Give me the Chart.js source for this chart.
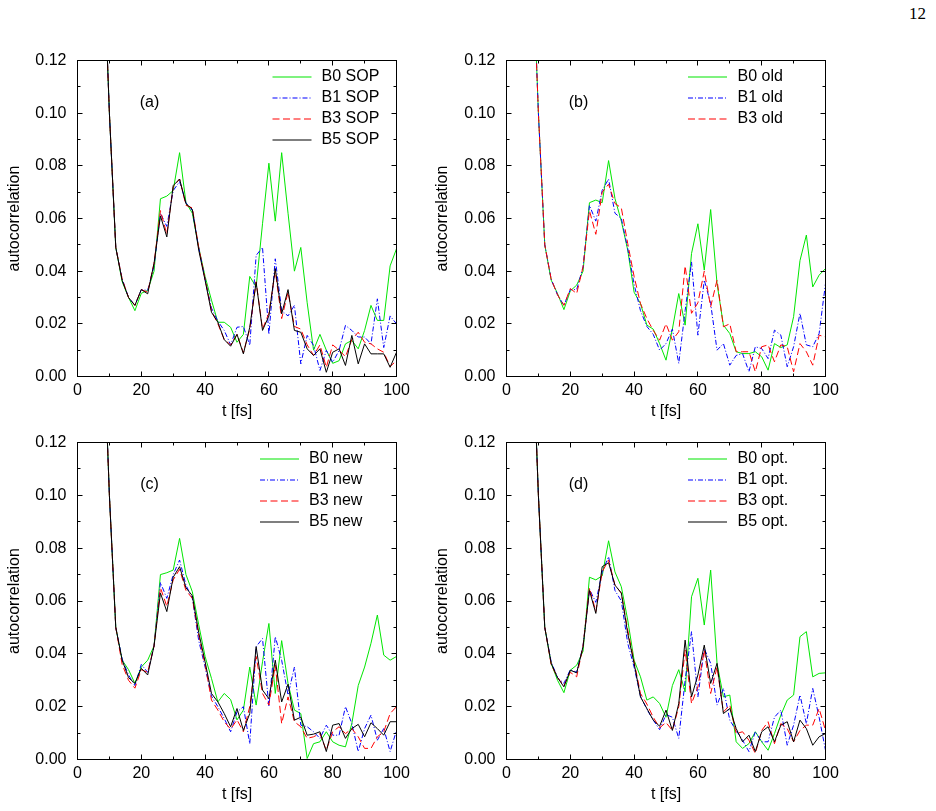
<!DOCTYPE html>
<html>
<head>
<meta charset="utf-8">
<title>autocorrelation</title>
<script src="https://cdn.jsdelivr.net/npm/chart.js@4.4.1/dist/chart.umd.min.js"></script>
<style>
  body { margin: 0; background: #fff; width: 936px; height: 811px; overflow: hidden; position: relative; }
  canvas { position: absolute; }
  #pageno { position: absolute; left: 909px; top: 4px; font: 17px "Liberation Serif", "DejaVu Serif", serif; color: #000; }
</style>
</head>
<body>
<div id="pageno">12</div>
<canvas id="panelA" width="420" height="380" style="left:0px;top:50px"></canvas>
<canvas id="panelB" width="420" height="380" style="left:428px;top:50px"></canvas>
<canvas id="panelC" width="420" height="379" style="left:0px;top:432px"></canvas>
<canvas id="panelD" width="420" height="379" style="left:428px;top:432px"></canvas>
<script type="text/javascript">
// time axis, every 2 fs
const timeFs = [0, 2, 4, 6, 8, 10, 12, 14, 16, 18,
    20, 22, 24, 26, 28, 30, 32, 34, 36, 38,
    40, 42, 44, 46, 48, 50, 52, 54, 56, 58,
    60, 62, 64, 66, 68, 70, 72, 74, 76, 78,
    80, 82, 84, 86, 88, 90, 92, 94, 96, 98,
    100];

// (a) SOP
const sopB0 = [1.000, 0.880, 0.620, 0.360, 0.165, 0.100, 0.049, 0.036, 0.030, 0.025,
    0.0316, 0.0327, 0.040, 0.0675, 0.0685, 0.0706, 0.085, 0.066, 0.062, 0.049,
    0.038, 0.029, 0.0206, 0.0206, 0.0187, 0.013, 0.016, 0.038, 0.034, 0.058,
    0.081, 0.059, 0.085, 0.062, 0.040, 0.049, 0.028, 0.010, 0.016, 0.010,
    0.005, 0.006, 0.0124, 0.0137, 0.0105, 0.0175, 0.027, 0.0213, 0.0213, 0.042,
    0.0485];
const sopB1 = [1.000, 0.880, 0.620, 0.360, 0.165, 0.100, 0.049, 0.037, 0.030, 0.027,
    0.033, 0.0327, 0.042, 0.062, 0.057, 0.0706, 0.074, 0.066, 0.063, 0.049,
    0.037, 0.026, 0.021, 0.0175, 0.012, 0.0187, 0.019, 0.0118, 0.046, 0.049,
    0.016, 0.0447, 0.025, 0.023, 0.027, 0.0048, 0.0156, 0.0118, 0.0023, 0.0099,
    0.0054, 0.0099, 0.0194, 0.0175, 0.015, 0.015, 0.0124, 0.0295, 0.011, 0.023,
    0.020];
const sopB3 = [1.000, 0.880, 0.620, 0.360, 0.165, 0.100, 0.049, 0.037, 0.030, 0.027,
    0.033, 0.032, 0.043, 0.063, 0.054, 0.072, 0.075, 0.065, 0.064, 0.049,
    0.037, 0.025, 0.020, 0.014, 0.012, 0.016, 0.009, 0.018, 0.036, 0.018,
    0.024, 0.040, 0.022, 0.032, 0.019, 0.018, 0.012, 0.008, 0.012, 0.0035,
    0.012, 0.010, 0.0075, 0.014, 0.0168, 0.013, 0.0124, 0.0105, 0.0092, 0.0038,
    0.006];
const sopB5 = [1.000, 0.880, 0.620, 0.360, 0.165, 0.100, 0.049, 0.0365, 0.030, 0.027,
    0.033, 0.0314, 0.043, 0.061, 0.053, 0.0725, 0.075, 0.0656, 0.0635, 0.048,
    0.0365, 0.0244, 0.0206, 0.014, 0.0115, 0.016, 0.0086, 0.0187, 0.0358, 0.0175,
    0.023, 0.041, 0.0238, 0.033, 0.0175, 0.0168, 0.0105, 0.008, 0.0105, 0.0016,
    0.0092, 0.0105, 0.0042, 0.0156, 0.0048, 0.0124, 0.0086, 0.0086, 0.0086, 0.0035,
    0.0092];

// (b) old
const oldB0 = [1.000, 0.880, 0.620, 0.360, 0.165, 0.100, 0.050, 0.0366, 0.0315, 0.0254,
    0.0325, 0.0347, 0.040, 0.066, 0.067, 0.066, 0.082, 0.0676, 0.059, 0.048,
    0.032, 0.0277, 0.0195, 0.018, 0.0125, 0.0062, 0.018, 0.0315, 0.0195, 0.0467,
    0.058, 0.0404, 0.0634, 0.0353, 0.0195, 0.0163, 0.0094, 0.0087, 0.0087, 0.0094,
    0.0075, 0.0024, 0.0125, 0.011, 0.012, 0.0227, 0.044, 0.0537, 0.034, 0.0385,
    0.041];
const oldB1 = [1.000, 0.880, 0.620, 0.360, 0.165, 0.100, 0.050, 0.037, 0.031, 0.027,
    0.033, 0.033, 0.0416, 0.065, 0.059, 0.0707, 0.075, 0.062, 0.060, 0.0486,
    0.035, 0.025, 0.019, 0.016, 0.010, 0.0125, 0.018, 0.005, 0.025, 0.0435,
    0.0157, 0.0366, 0.0277, 0.010, 0.0125, 0.0043, 0.008, 0.0087, 0.0018, 0.0113,
    0.0106, 0.0068, 0.0176, 0.0157, 0.0037, 0.0113, 0.024, 0.012, 0.0113, 0.0163,
    0.0353];
const oldB3 = [1.000, 0.880, 0.620, 0.360, 0.165, 0.100, 0.050, 0.037, 0.031, 0.027,
    0.0334, 0.0315, 0.0416, 0.063, 0.054, 0.070, 0.073, 0.0657, 0.064, 0.0505,
    0.038, 0.0277, 0.022, 0.0175, 0.0138, 0.020, 0.0138, 0.017, 0.042, 0.024,
    0.028, 0.040, 0.0265, 0.0366, 0.0189, 0.020, 0.0094, 0.0094, 0.0094, 0.0018,
    0.0113, 0.012, 0.0056, 0.012, 0.0113, 0.0018, 0.0125, 0.0094, 0.0043, 0.0157,
    0.015];

// (c) new
const newB0 = [1.000, 0.880, 0.620, 0.360, 0.165, 0.100, 0.050, 0.0376, 0.034, 0.0288,
    0.035, 0.0376, 0.043, 0.070, 0.0707, 0.0717, 0.0837, 0.070, 0.0635, 0.051,
    0.039, 0.0307, 0.0218, 0.025, 0.0227, 0.015, 0.0187, 0.035, 0.0206, 0.037,
    0.0515, 0.025, 0.045, 0.0288, 0.0187, 0.0174, 0.0004, 0.006, 0.0067, 0.0105,
    0.0067, 0.0054, 0.0048, 0.0136, 0.028, 0.035, 0.044, 0.0547, 0.0395, 0.0376,
    0.039];
const newB1 = [1.000, 0.880, 0.620, 0.360, 0.165, 0.100, 0.050, 0.038, 0.032, 0.028,
    0.036, 0.033, 0.043, 0.067, 0.061, 0.070, 0.0755, 0.066, 0.061, 0.045,
    0.035, 0.024, 0.020, 0.0155, 0.0105, 0.018, 0.020, 0.006, 0.0427, 0.0458,
    0.020, 0.0465, 0.0376, 0.0244, 0.035, 0.013, 0.0124, 0.0105, 0.008, 0.013,
    0.0092, 0.0092, 0.020, 0.0136, 0.003, 0.0117, 0.0168, 0.0073, 0.0117, 0.003,
    0.011];
const newB3 = [1.000, 0.880, 0.620, 0.360, 0.165, 0.100, 0.050, 0.036, 0.030, 0.027,
    0.034, 0.033, 0.043, 0.065, 0.058, 0.068, 0.072, 0.064, 0.061, 0.047,
    0.036, 0.0225, 0.0187, 0.0143, 0.0115, 0.015, 0.0105, 0.020, 0.039, 0.025,
    0.0206, 0.0357, 0.0136, 0.0237, 0.0143, 0.0124, 0.008, 0.0086, 0.0098, 0.0035,
    0.0105, 0.0124, 0.0098, 0.0117, 0.0086, 0.0042, 0.0042, 0.0086, 0.0105, 0.0174,
    0.020];
const newB5 = [1.000, 0.880, 0.620, 0.360, 0.165, 0.100, 0.050, 0.0376, 0.031, 0.0288,
    0.0345, 0.032, 0.043, 0.063, 0.056, 0.069, 0.073, 0.065, 0.062, 0.048,
    0.037, 0.025, 0.0218, 0.0174, 0.0124, 0.0193, 0.011, 0.0174, 0.0427, 0.0263,
    0.023, 0.0376, 0.0218, 0.0285, 0.0149, 0.016, 0.0092, 0.0096, 0.0105, 0.003,
    0.013, 0.0136, 0.008, 0.0117, 0.0133, 0.0086, 0.0139, 0.0117, 0.0092, 0.0143,
    0.0143];

// (d) opt.
const optB0 = [1.000, 0.880, 0.620, 0.360, 0.165, 0.100, 0.050, 0.0364, 0.030, 0.0253,
    0.0338, 0.0357, 0.041, 0.069, 0.068, 0.0695, 0.0828, 0.071, 0.0654, 0.0528,
    0.0376, 0.0313, 0.0225, 0.0237, 0.0212, 0.016, 0.028, 0.034, 0.0256, 0.0616,
    0.0686, 0.0509, 0.0717, 0.0364, 0.0237, 0.0244, 0.0067, 0.0042, 0.006, 0.0105,
    0.0067, 0.0035, 0.0098, 0.0168, 0.0225, 0.0244, 0.0465, 0.0484, 0.0313, 0.0326,
    0.0328];
const optB1 = [1.000, 0.880, 0.620, 0.360, 0.165, 0.100, 0.050, 0.037, 0.031, 0.0288,
    0.034, 0.033, 0.043, 0.0645, 0.0595, 0.071, 0.0768, 0.064, 0.060, 0.044,
    0.035, 0.024, 0.019, 0.0149, 0.0113, 0.017, 0.016, 0.008, 0.030, 0.0484,
    0.0237, 0.042, 0.0364, 0.0206, 0.0269, 0.0149, 0.011, 0.0073, 0.003, 0.0105,
    0.0067, 0.0067, 0.016, 0.0187, 0.0054, 0.013, 0.0244, 0.0136, 0.0269, 0.016,
    0.0035];
const optB3 = [1.000, 0.880, 0.620, 0.360, 0.165, 0.100, 0.050, 0.036, 0.031, 0.028,
    0.033, 0.0313, 0.043, 0.065, 0.056, 0.071, 0.0755, 0.066, 0.063, 0.049,
    0.037, 0.025, 0.021, 0.016, 0.012, 0.014, 0.011, 0.020, 0.0414, 0.0212,
    0.0275, 0.0414, 0.025, 0.035, 0.018, 0.0206, 0.0098, 0.0105, 0.0073, 0.0023,
    0.011, 0.0143, 0.006, 0.0136, 0.0117, 0.0067, 0.011, 0.013, 0.013, 0.0193,
    0.011];
const optB5 = [1.000, 0.880, 0.620, 0.360, 0.165, 0.100, 0.050, 0.0364, 0.031, 0.0275,
    0.0338, 0.0328, 0.0427, 0.064, 0.0553, 0.073, 0.0745, 0.066, 0.063, 0.0477,
    0.0364, 0.0237, 0.0193, 0.0149, 0.0126, 0.0187, 0.011, 0.0212, 0.0452, 0.0237,
    0.032, 0.0433, 0.0288, 0.0364, 0.0174, 0.0193, 0.0117, 0.0067, 0.0092, 0.003,
    0.0105, 0.0124, 0.0067, 0.013, 0.0143, 0.0067, 0.0149, 0.0117, 0.0054, 0.0086,
    0.0098];

// axis ticks
const xTickValues = [0, 20, 40, 60, 80, 100];
const xMinorValues = [0, 10, 20, 30, 40, 50, 60, 70, 80, 90, 100];
const yTickValues = [0, 0.02, 0.04, 0.06, 0.08, 0.10, 0.12];
const yMinorValues = [0, 0.01, 0.02, 0.03, 0.04, 0.05, 0.06, 0.07, 0.08, 0.09, 0.10, 0.11, 0.12];

const lineStyle = {
    B0: { color: '#00e600', dash: [] },
    B1: { color: '#0000ff', dash: [5, 2, 1, 2] },
    B3: { color: '#ff0000', dash: [7, 3.5] },
    B5: { color: '#000000', dash: [] }
};
const fontFamily = '"Liberation Sans", Arial, Helvetica, sans-serif';

// frame round the plot with gnuplot style inner ticks
const frameTicks = {
    id: 'frameTicks',
    afterDatasetsDraw(chart) {
        var ctx = chart.ctx, a = chart.chartArea;
        var sx = chart.scales.x, sy = chart.scales.y;
        ctx.save();
        ctx.strokeStyle = '#000';
        ctx.lineWidth = 1;
        ctx.setLineDash([]);
        ctx.strokeRect(a.left, a.top, a.right - a.left, a.bottom - a.top);
        ctx.beginPath();
        xMinorValues.forEach(function (v) {
            var px = Math.round(sx.getPixelForValue(v) - 0.5) + 0.5;
            var len = xTickValues.indexOf(v) >= 0 ? 5 : 3;
            ctx.moveTo(px, a.bottom); ctx.lineTo(px, a.bottom - len);
            ctx.moveTo(px, a.top); ctx.lineTo(px, a.top + len);
        });
        yMinorValues.forEach(function (v, i) {
            var py = Math.round(sy.getPixelForValue(v) - 0.5) + 0.5;
            var len = i % 2 ? 3 : 5;
            ctx.moveTo(a.left, py); ctx.lineTo(a.left + len, py);
            ctx.moveTo(a.right, py); ctx.lineTo(a.right - len, py);
        });
        ctx.stroke();
        ctx.restore();
    }
};

// key inside the plot and the panel letter
const insideKey = {
    id: 'insideKey',
    afterDraw(chart, args, opts) {
        var ctx = chart.ctx, a = chart.chartArea;
        ctx.save();
        ctx.font = '16px ' + fontFamily;
        ctx.textBaseline = 'middle';
        chart.data.datasets.forEach(function (ds, i) {
            var st = lineStyle[ds.label.split(' ')[0]];
            var y = a.top + 16.5 + i * 21;   // on a pixel edge, so the line is soft like the data lines
            ctx.strokeStyle = st.color;
            ctx.lineWidth = 1.2;
            ctx.setLineDash(st.dash);
            ctx.beginPath();
            ctx.moveTo(a.right + opts.lineFrom, y);
            ctx.lineTo(a.right + opts.lineFrom + 39, y);
            ctx.stroke();
            ctx.fillStyle = '#000';
            ctx.textAlign = 'left';
            ctx.fillText(ds.label, a.right + opts.textAt, y);
        });
        ctx.fillStyle = '#000';
        ctx.textAlign = 'center';
        ctx.fillText(opts.tag, a.left + 72, a.top + 42);
        ctx.restore();
    }
};

// area = plot box in page pixels [left, top, right, bottom]
const panels = [
    { id: 'panelA', left: 0, top: 50, area: [77.5, 60.5, 396.5, 376.5], tag: '(a)', suffix: 'SOP',
      series: [['B0', sopB0], ['B1', sopB1], ['B3', sopB3], ['B5', sopB5]], lineFrom: -124, textAt: -75 },
    { id: 'panelB', left: 428, top: 50, area: [506.5, 60.5, 825.5, 376.5], tag: '(b)', suffix: 'old',
      series: [['B0', oldB0], ['B1', oldB1], ['B3', oldB3]], lineFrom: -137.5, textAt: -88 },
    { id: 'panelC', left: 0, top: 432, area: [77.5, 442.5, 396.5, 759.5], tag: '(c)', suffix: 'new',
      series: [['B0', newB0], ['B1', newB1], ['B3', newB3], ['B5', newB5]], lineFrom: -136.5, textAt: -87.5 },
    { id: 'panelD', left: 428, top: 432, area: [506.5, 442.5, 825.5, 759.5], tag: '(d)', suffix: 'opt.',
      series: [['B0', optB0], ['B1', optB1], ['B3', optB3], ['B5', optB5]], lineFrom: -137.5, textAt: -88 }
];

function makePanel(p) {
    var cv = document.getElementById(p.id);
    var W = cv.width, H = cv.height;
    var left = p.area[0] - p.left, top = p.area[1] - p.top;
    var right = p.area[2] - p.left, bottom = p.area[3] - p.top;
    var font = { family: fontFamily, size: 16 };

    var datasets = p.series.map(function (s, i) {
        return {
            label: s[0] + ' ' + p.suffix,
            data: timeFs.map(function (t, k) { return { x: t, y: s[1][k] }; }),
            borderColor: lineStyle[s[0]].color,
            borderDash: lineStyle[s[0]].dash,
            borderWidth: 1,
            pointRadius: 0,
            tension: 0,
            fill: false,
            order: p.series.length - i
        };
    });

    return new Chart(cv, {
        type: 'line',
        data: { datasets: datasets },
        options: {
            responsive: false,
            animation: false,
            devicePixelRatio: 1,
            layout: { padding: { left: 0, top: top, right: W - right, bottom: 0 } },
            plugins: {
                legend: { display: false },
                tooltip: { enabled: false },
                insideKey: { tag: p.tag, lineFrom: p.lineFrom, textAt: p.textAt }
            },
            scales: {
                x: {
                    type: 'linear', min: 0, max: 100,
                    grid: { display: false, drawTicks: false },
                    border: { display: false },
                    afterBuildTicks: function (s) { s.ticks = xTickValues.map(function (v) { return { value: v }; }); },
                    afterFit: function (s) { s.height = H - bottom; s.paddingLeft = 0; s.paddingRight = 0; },
                    ticks: { color: '#000', font: font, padding: 4, maxRotation: 0, autoSkip: false },
                    title: { display: true, text: 't [fs]', color: '#000', font: font,
                             padding: { top: 0, bottom: H - 9.6 - (bottom + 35) } }
                },
                y: {
                    min: 0, max: 0.12,
                    grid: { display: false, drawTicks: false },
                    border: { display: false },
                    afterBuildTicks: function (s) { s.ticks = yTickValues.map(function (v) { return { value: v }; }); },
                    afterFit: function (s) { s.width = left; s.paddingTop = 0; s.paddingBottom = 0; },
                    ticks: { color: '#000', font: font, padding: 11,
                             callback: function (v) { return Number(v).toFixed(2); } },
                    title: { display: true, text: 'autocorrelation', color: '#000', font: font,
                             padding: { top: 5.4, bottom: 0 } }
                }
            }
        },
        plugins: [frameTicks, insideKey]
    });
}

panels.forEach(makePanel);
</script>
</body>
</html>
